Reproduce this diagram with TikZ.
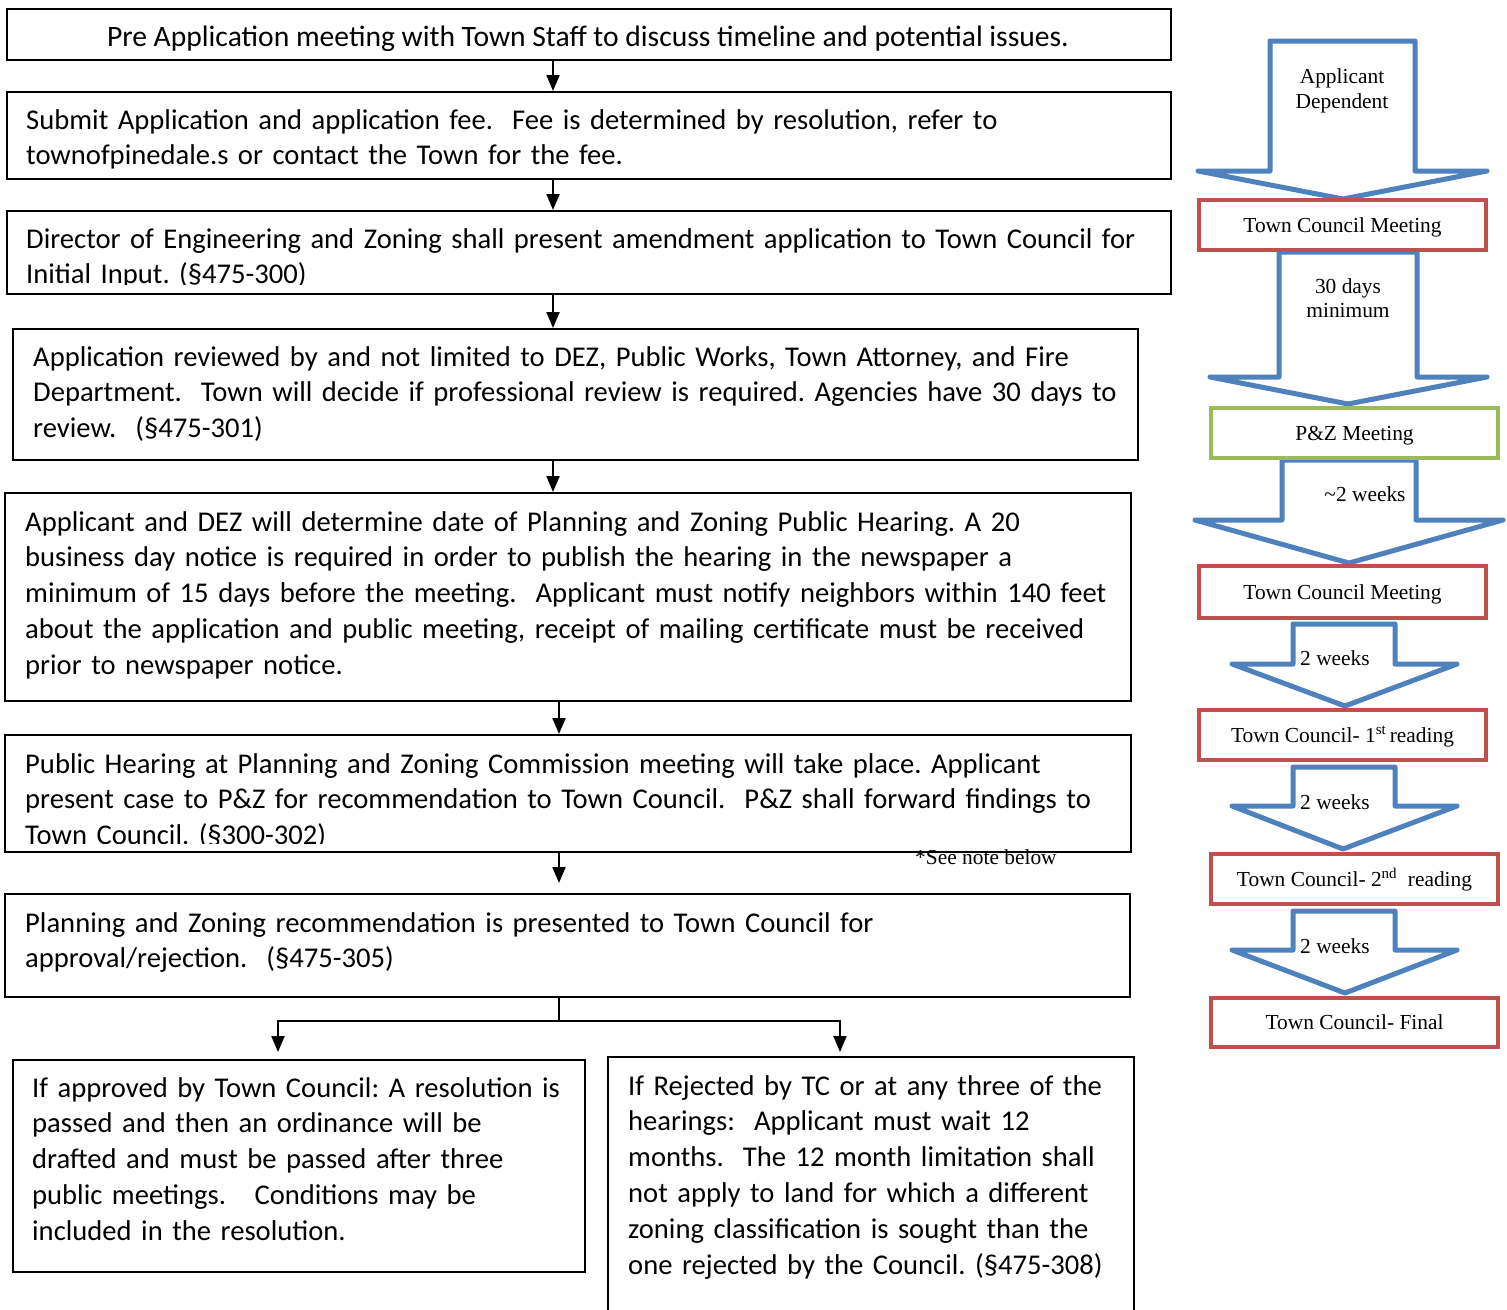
\documentclass[tikz,border=0pt]{standalone}
\usepackage{fontspec}
\newfontfamily\calfont{Carlito}
\newfontfamily\tmsfont{Liberation Serif}
\usetikzlibrary{arrows.meta,calc}
\definecolor{ablue}{HTML}{4F81BD}
\definecolor{ared}{HTML}{C0504D}
\definecolor{agreen}{HTML}{9BBB59}
\newcommand\blockarr[8]{%
  \draw[barrow] (#1,#3) -- (#2,#3) -- (#2,#4) -- (#6,#4) -- (#7,#8) -- (#5,#4) -- (#1,#4) -- cycle;}
\begin{document}
\begin{tikzpicture}[x=1pt,y=-1pt,
  box/.style={draw=black, line width=2pt, rectangle, inner sep=0pt, anchor=north west},
  txt/.style={anchor=base west, inner sep=0pt, align=left, text width=1150pt,
    font=\calfont\frenchspacing\fontsize{28.6}{35.8}\selectfont},
  conn/.style={line width=2pt, -{Triangle[length=16pt,width=13pt]}},
  rbox/.style={draw=ared, line width=4pt, fill=white, minimum width=287pt,
    minimum height=50pt, inner sep=0pt, text height=16pt, text depth=2pt,
    font=\tmsfont\fontsize{21.4}{24.6}\selectfont},
  gbox/.style={rbox, draw=agreen},
  barrow/.style={draw=ablue, line width=5pt, fill=white, line join=round},
  lbl/.style={inner sep=0pt, align=center, font=\tmsfont\fontsize{21.4}{24.6}\selectfont}
]
\clip (0,0) rectangle (1507,1309);
\fill[white] (0,0) rectangle (1507,1309);

% ---------- right column: block arrows ----------
\blockarr{1270}{1415}{41}{171}{1198}{1487}{1343}{199}
\blockarr{1279}{1417}{252}{377}{1210}{1487}{1348}{404}
\blockarr{1282}{1416}{460}{520}{1195}{1503}{1349}{563}
\blockarr{1293}{1395}{624}{664}{1232}{1457}{1345}{706}
\blockarr{1293}{1395}{767}{806}{1232}{1457}{1343}{849}
\blockarr{1293}{1395}{911}{950}{1232}{1457}{1345}{993}

% ---------- right column: boxes ----------
\node[rbox] (tc1) at (1342.5,225) {Town Council Meeting};
\node[gbox] (pz) at (1354.5,433) {P\&Z Meeting};
\node[rbox, minimum height=52pt] (tc2) at (1342.5,592) {Town Council Meeting};
\node[rbox] (tcr1) at (1342.5,735) {Town Council- 1\textsuperscript{st}\,reading};
\node[rbox] (tcr2) at (1354.5,879) {Town Council- 2\textsuperscript{nd}\ \ reading};
\node[rbox, minimum height=49pt] (tcf) at (1354.5,1022.5) {Town Council- Final};

% ---------- right column: arrow labels ----------
\node[lbl] (l1) at (1342,91) {Applicant\\Dependent};
\node[lbl] (l2) at (1348,298) {30 days\\minimum};
\node[lbl] (l3) at (1365,494) {\textasciitilde2 weeks};
\node[lbl, anchor=west] (l4) at (1300,658) {2 weeks};
\node[lbl, anchor=west] (l5) at (1300,802) {2 weeks};
\node[lbl, anchor=west] (l6) at (1300,946) {2 weeks};

% ---------- left column: boxes ----------
\node[box, minimum width=1164pt, minimum height=51pt] (b1) at (6,8) {};
\node[box, minimum width=1164pt, minimum height=87pt] (b2) at (6,91) {};
\node[box, minimum width=1164pt, minimum height=83pt] (b3) at (6,210) {};
\node[box, minimum width=1125pt, minimum height=131pt] (b4) at (12,328) {};
\node[box, minimum width=1126pt, minimum height=208pt] (b5) at (4,492) {};
\node[box, minimum width=1126pt, minimum height=117pt] (b6) at (4,734) {};
\node[box, minimum width=1125pt, minimum height=103pt] (b7) at (4,893) {};
\node[box, minimum width=572pt, minimum height=212pt] (b8) at (12,1059) {};
\node[box, minimum width=526pt, minimum height=280pt] (b9) at (607,1056) {};

% ---------- left column: texts ----------
\begin{scope}
  \clip (b1.north west) rectangle ($(b1.south east)+(0,-11)$);
  \node[anchor=base, inner sep=0pt, font=\calfont\frenchspacing\fontsize{29.6}{35.8}\selectfont] (t1) at (588,46)
    {Pre Application meeting with Town Staff to discuss timeline and potential issues.};
\end{scope}
\node[txt] (t2) at (26,129) {Submit Application and application fee.\ \ Fee is determined by resolution, refer to\\
  townofpinedale.s or contact the Town for the fee.};
\begin{scope}
  \clip (b3.north west) rectangle ($(b3.south east)+(0,-11)$);
  \node[txt] (t3) at (26,248) {Director of Engineering and Zoning shall present amendment application to Town Council for\\
    Initial Input. (\S475-300)};
\end{scope}
\node[txt] (t4) at (33,366) {Application reviewed by and not limited to DEZ, Public Works, Town Attorney, and Fire\\
  Department.\ \ Town will decide if professional review is required. Agencies have 30 days to\\
  review.\ \ (\S475-301)};
\node[txt] (t5) at (25,531) {Applicant and DEZ will determine date of Planning and Zoning Public Hearing. A 20\\
  business day notice is required in order to publish the hearing in the newspaper a\\
  minimum of 15 days before the meeting.\ \ Applicant must notify neighbors within 140 feet\\
  about the application and public meeting, receipt of mailing certificate must be received\\
  prior to newspaper notice.};
\begin{scope}
  \clip (b6.north west) rectangle ($(b6.south east)+(0,-10)$);
  \node[txt] (t6) at (25,773) {Public Hearing at Planning and Zoning Commission meeting will take place. Applicant\\
    present case to P\&Z for recommendation to Town Council.\ \ P\&Z shall forward findings to\\
    Town Council. (\S300-302)};
\end{scope}
\node[txt] (t7) at (25,932) {Planning and Zoning recommendation is presented to Town Council for\\
  approval/rejection.\ \ (\S475-305)};
\node[txt] (t8) at (32,1097) {If approved by Town Council: A resolution is\\
  passed and then an ordinance will be\\
  drafted and must be passed after three\\
  public meetings.\ \ \ Conditions may be\\
  included in the resolution.};
\node[txt] (t9) at (628,1095) {If Rejected by TC or at any three of the\\
  hearings:\ \ Applicant must wait 12\\
  months.\ \ The 12 month limitation shall\\
  not apply to land for which a different\\
  zoning classification is sought than the\\
  one rejected by the Council. (\S475-308)};

\node[lbl, anchor=base west] (note) at (915,864) {*See note below};

% ---------- left column: connectors ----------
\coordinate (cx1) at (553,0);
\coordinate (cx2) at (559,0);
\coordinate (fk) at (559,1021);
\coordinate (fl) at (278,0);
\coordinate (fr) at (840,0);
\draw[conn] (b1.south -| cx1) -- (b2.north -| cx1);
\draw[conn] (b2.south -| cx1) -- (b3.north -| cx1);
\draw[conn] (b3.south -| cx1) -- (b4.north -| cx1);
\draw[conn] (b4.south -| cx1) -- (b5.north -| cx1);
\draw[conn] (b5.south -| cx2) -- (b6.north -| cx2);
\draw[conn, shorten >=10pt] (b6.south -| cx2) -- (b7.north -| cx2);
\draw[line width=2pt] (b7.south -| fk) -- (fk);
\draw[conn, shorten >=7pt] (fk) -| (b8.north -| fl);
\draw[conn, shorten >=4pt] (fk) -| (b9.north -| fr);
\end{tikzpicture}
\end{document}
